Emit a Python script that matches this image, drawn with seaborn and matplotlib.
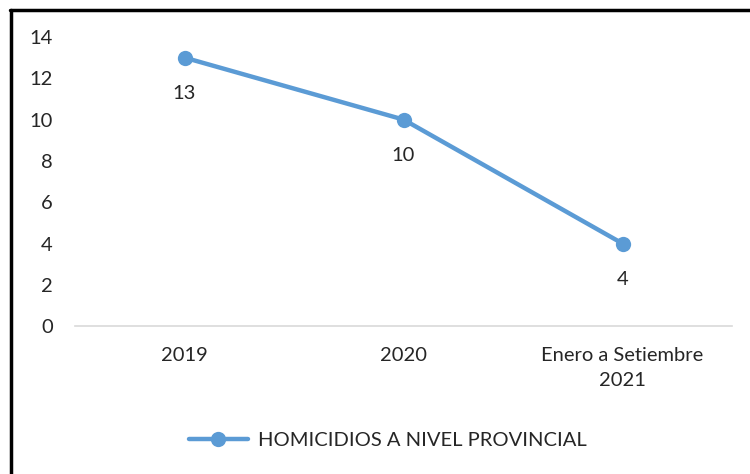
import pandas as pd
import seaborn as sns
import matplotlib.pyplot as plt
from matplotlib.lines import Line2D

# Datos
periodos = ["2019", "2020", "Enero a Setiembre\n2021"]
homicidios = [13, 10, 4]
serie = "HOMICIDIOS A NIVEL PROVINCIAL"

df = pd.DataFrame({"periodo": periodos, "homicidios": homicidios})

sns.set_style("white")
plt.rcParams["font.family"] = ["Lato", "DejaVu Sans"]

color = "#5B9BD5"
fs = 14.5
fig = plt.figure(figsize=(7.5, 4.74), dpi=100)
ax = fig.add_axes([0.1, 0.312, 0.876, 0.61])

sns.lineplot(data=df, x="periodo", y="homicidios", ax=ax, color=color,
             linewidth=3.2, marker="o", markersize=11, markeredgewidth=0,
             label=serie, sort=False)

# Etiquetas debajo de cada punto
for i, v in enumerate(homicidios):
    ax.annotate(str(v), (i, v), xytext=(0, -26), textcoords="offset points",
                ha="center", va="center", fontsize=fs)

ax.set_xlim(-0.5, 2.5)
ax.set_ylim(0, 14)
ax.set_yticks(range(0, 15, 2))
ax.set_xlabel("")
ax.set_ylabel("")
ax.tick_params(axis="y", labelsize=fs, length=0, pad=16)
ax.tick_params(axis="x", labelsize=fs, length=0, pad=15)
for lbl in ax.get_xticklabels():
    lbl.set_linespacing(1.55)
for s in ["top", "right", "left"]:
    ax.spines[s].set_visible(False)
ax.spines["bottom"].set_color("#D9D9D9")
ax.spines["bottom"].set_linewidth(1.2)

ax.legend(loc="center", bbox_to_anchor=(0.476, -0.394), frameon=False,
          fontsize=fs, handlelength=2.9, handletextpad=0.5)

# Borde negro (arriba e izquierda)
fig.add_artist(Line2D([10 / 750, 1], [1 - 9.5 / 474, 1 - 9.5 / 474],
                      transform=fig.transFigure, color="black", linewidth=2.5))
fig.add_artist(Line2D([11 / 750, 11 / 750], [0, 1 - 9.5 / 474],
                      transform=fig.transFigure, color="black", linewidth=2.5))

fig.savefig("out.png", dpi=100)
plt.close()
